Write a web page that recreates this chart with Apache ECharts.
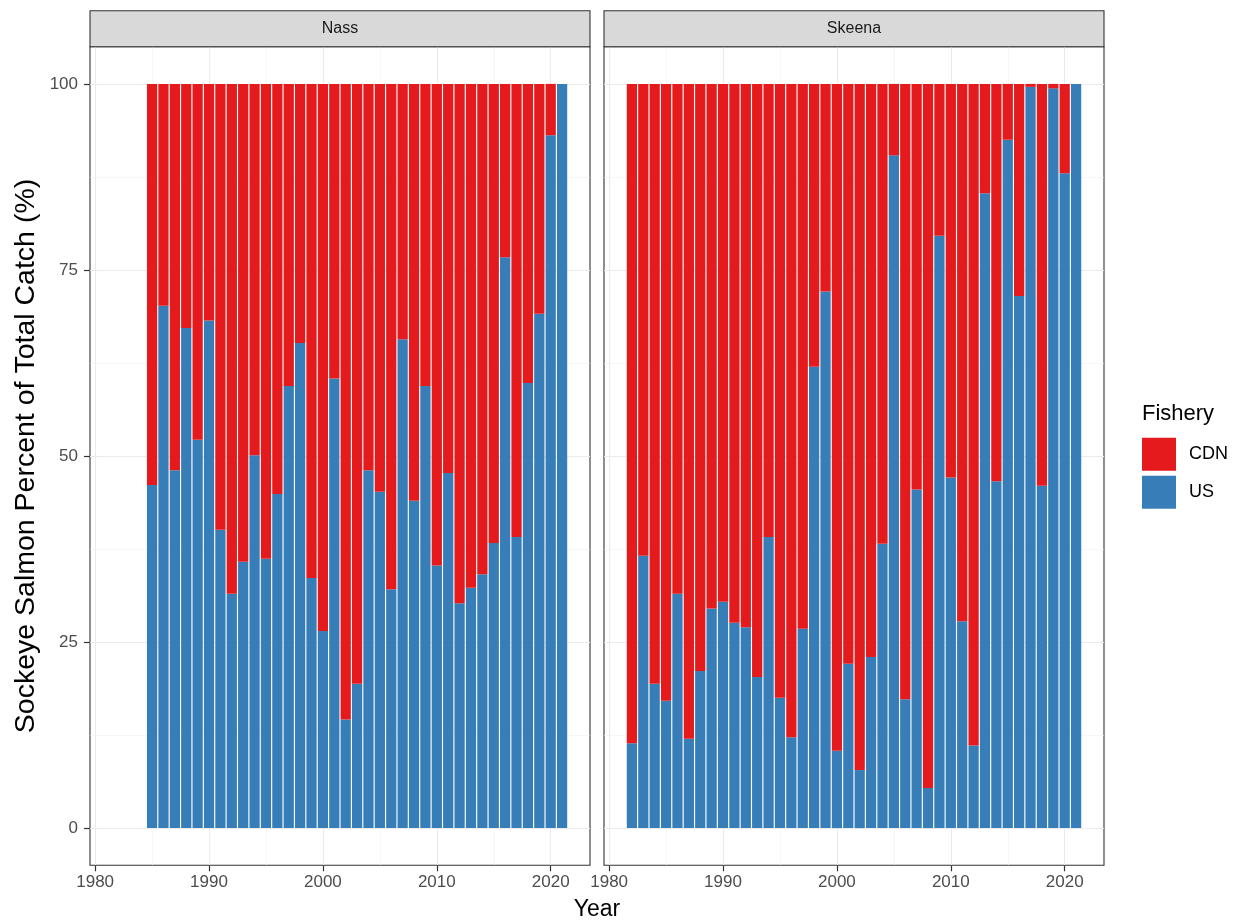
<!DOCTYPE html>
<html>
<head>
<meta charset="utf-8">
<script src="https://cdn.jsdelivr.net/npm/echarts@6/dist/echarts.min.js"></script>
<style>
  html, body { margin: 0; padding: 0; background: #ffffff; }
  #chart { width: 1239px; height: 924px; }
</style>
</head>
<body>
<div id="chart"></div>
<script>
// Sockeye salmon catch share (%) by fishery, per river system
const nassYears = [1985, 1986, 1987, 1988, 1989, 1990, 1991, 1992, 1993, 1994, 1995, 1996, 1997, 1998, 1999,
  2000, 2001, 2002, 2003, 2004, 2005, 2006, 2007, 2008, 2009, 2010, 2011, 2012, 2013, 2014, 2015, 2016,
  2017, 2018, 2019, 2020, 2021];
const nassUS = [46.1, 70.2, 48.1, 67.2, 52.2, 68.2, 40.1, 31.5, 35.8, 50.1, 36.2, 44.9, 59.4, 65.2, 33.6,
  26.5, 60.4, 14.6, 19.4, 48.1, 45.2, 32.1, 65.7, 44.0, 59.4, 35.3, 47.7, 30.2, 32.3, 34.1, 38.3, 76.7,
  39.1, 59.8, 69.1, 93.1, 100];
const nassCDN = [53.9, 29.8, 51.9, 32.8, 47.8, 31.8, 59.9, 68.5, 64.2, 49.9, 63.8, 55.1, 40.6, 34.8, 66.4,
  73.5, 39.6, 85.4, 80.6, 51.9, 54.8, 67.9, 34.3, 56.0, 40.6, 64.7, 52.3, 69.8, 67.7, 65.9, 61.7, 23.3,
  60.9, 40.2, 30.9, 6.9, 0];

const skeenaYears = [1982, 1983, 1984, 1985, 1986, 1987, 1988, 1989, 1990, 1991, 1992, 1993, 1994, 1995,
  1996, 1997, 1998, 1999, 2000, 2001, 2002, 2003, 2004, 2005, 2006, 2007, 2008, 2009, 2010, 2011, 2012,
  2013, 2014, 2015, 2016, 2017, 2018, 2019, 2020, 2021];
const skeenaUS = [11.4, 36.6, 19.4, 17.1, 31.5, 12.0, 21.1, 29.5, 30.4, 27.6, 27.0, 20.3, 39.1, 17.5,
  12.2, 26.8, 62.0, 72.1, 10.4, 22.1, 7.8, 23.0, 38.2, 90.4, 17.3, 45.5, 5.4, 79.6, 47.1, 27.8, 11.1,
  85.3, 46.6, 92.5, 71.5, 99.6, 46.0, 99.4, 88.0, 100];
const skeenaCDN = [88.6, 63.4, 80.6, 82.9, 68.5, 88.0, 78.9, 70.5, 69.6, 72.4, 73.0, 79.7, 60.9, 82.5,
  87.8, 73.2, 38.0, 27.9, 89.6, 77.9, 92.2, 77.0, 61.8, 9.6, 82.7, 54.5, 94.6, 20.4, 52.9, 72.2, 88.9,
  14.7, 53.4, 7.5, 28.5, 0.4, 54.0, 0.6, 12.0, 0];

const panelNames = ['Nass', 'Skeena'];
const fisheryNames = ['CDN', 'US'];
const xTicks = [1980, 1990, 2000, 2010, 2020];
const yTicks = [0, 25, 50, 75, 100];

const panels = [
  { name: panelNames[0], years: nassYears, us: nassUS, cdn: nassCDN },
  { name: panelNames[1], years: skeenaYears, us: skeenaUS, cdn: skeenaCDN }
];

// ---- layout ----
const FONT = '"Liberation Sans", Arial, Helvetica, sans-serif';
const RED = '#E41A1C';
const BLUE = '#377EB8';
const BORDER = '#333333';
const GRID_MAJOR = '#EBEBEB';
const GRID_MINOR = '#F2F2F2';
const panelLeft = [90, 604];
const panelWidth = 500;
const panelTop = 46.7;
const panelBottom = 865.3;
const panelHeight = panelBottom - panelTop;
const stripTop = 10.7;
const xRange = [1979.55, 2023.45];   // bar extent plus 5% padding
const yRange = [-5, 105];

function xPix(i, v) {
  return panelLeft[i] + (v - xRange[0]) / (xRange[1] - xRange[0]) * panelWidth;
}
function yPix(v) {
  return panelTop + (yRange[1] - v) / (yRange[1] - yRange[0]) * panelHeight;
}
const barWidth = 0.9 * panelWidth / (xRange[1] - xRange[0]);

const grids = [], xAxes = [], yAxes = [], series = [], graphics = [];

panels.forEach((p, i) => {
  const g = grids.length;

  // data grid: the full panel, carries the bars and the border
  grids.push({
    left: panelLeft[i], top: panelTop, width: panelWidth, height: panelHeight,
    show: true, borderColor: BORDER, borderWidth: 1.1, backgroundColor: 'transparent',
    containLabel: false
  });
  // vertical grid lines, x ticks and labels
  grids.push({
    left: xPix(i, xTicks[0]), top: panelTop,
    width: xPix(i, xTicks[xTicks.length - 1]) - xPix(i, xTicks[0]), height: panelHeight,
    containLabel: false
  });
  // horizontal grid lines, y ticks and labels
  grids.push({
    left: panelLeft[i], top: yPix(yTicks[yTicks.length - 1]),
    width: panelWidth, height: yPix(yTicks[0]) - yPix(yTicks[yTicks.length - 1]),
    containLabel: false
  });

  const dataX = xAxes.length;
  xAxes.push({ gridIndex: g, type: 'value', min: xRange[0], max: xRange[1], show: false });
  const dataY = yAxes.length;
  yAxes.push({ gridIndex: g, type: 'value', min: yRange[0], max: yRange[1], show: false });

  xAxes.push({
    gridIndex: g + 1, type: 'value',
    min: xTicks[0], max: xTicks[xTicks.length - 1], interval: xTicks[1] - xTicks[0],
    axisLine: { show: false },
    axisTick: { show: true, length: 6, lineStyle: { color: BORDER, width: 1.2 } },
    axisLabel: { show: true, color: '#4D4D4D', fontSize: 17, fontFamily: FONT, margin: 9,
      formatter: v => String(v) },
    splitLine: { show: true, lineStyle: { color: GRID_MAJOR, width: 1.1 } },
    minorTick: { show: false, splitNumber: 2 },
    minorSplitLine: { show: true, lineStyle: { color: GRID_MINOR, width: 0.6 } }
  });
  yAxes.push({ gridIndex: g + 1, type: 'value', min: 0, max: 1, show: false });

  xAxes.push({ gridIndex: g + 2, type: 'value', min: 0, max: 1, show: false });
  yAxes.push({
    gridIndex: g + 2, type: 'value',
    min: yTicks[0], max: yTicks[yTicks.length - 1], interval: yTicks[1] - yTicks[0],
    axisLine: { show: false },
    axisTick: { show: i === 0, length: 6, lineStyle: { color: BORDER, width: 1.2 } },
    axisLabel: { show: i === 0, color: '#4D4D4D', fontSize: 17, fontFamily: FONT, margin: 12 },
    splitLine: { show: true, lineStyle: { color: GRID_MAJOR, width: 1.1 } },
    minorTick: { show: false, splitNumber: 2 },
    minorSplitLine: { show: true, lineStyle: { color: GRID_MINOR, width: 0.6 } }
  });

  // value column first so the stack applies to the percentage, not the year
  const common = {
    type: 'bar', xAxisIndex: dataX, yAxisIndex: dataY, stack: 'share' + i,
    encode: { x: 1, y: 0 },
    barWidth: barWidth, animation: false, silent: true,
    emphasis: { disabled: true }
  };
  series.push(Object.assign({}, common, {
    name: fisheryNames[1], itemStyle: { color: BLUE },
    data: p.years.map((y, k) => [p.us[k], y])
  }));
  series.push(Object.assign({}, common, {
    name: fisheryNames[0], itemStyle: { color: RED },
    data: p.years.map((y, k) => [p.cdn[k], y])
  }));

  // facet strip
  graphics.push({
    type: 'rect', z: 10,
    shape: { x: panelLeft[i], y: stripTop, width: panelWidth, height: panelTop - stripTop },
    style: { fill: '#D9D9D9', stroke: BORDER, lineWidth: 1.1 }
  });
  graphics.push({
    type: 'text', z: 11,
    x: panelLeft[i] + panelWidth / 2, y: (stripTop + panelTop) / 2,
    style: { text: p.name, fill: '#1A1A1A', font: '16px ' + FONT, textAlign: 'center', textVerticalAlign: 'middle' }
  });
});

// axis titles and legend title
graphics.push({
  type: 'text', z: 11, x: 26, y: (panelTop + panelBottom) / 2, rotation: Math.PI / 2,
  style: { text: 'Sockeye Salmon Percent of Total Catch (%)', fill: '#000000', font: '28.5px ' + FONT,
    textAlign: 'center', textVerticalAlign: 'middle' }
});
graphics.push({
  type: 'text', z: 11, x: (panelLeft[0] + panelLeft[1] + panelWidth) / 2, y: 910,
  style: { text: 'Year', fill: '#000000', font: '23px ' + FONT, textAlign: 'center', textVerticalAlign: 'middle' }
});
graphics.push({
  type: 'text', z: 11, x: 1142, y: 414,
  style: { text: 'Fishery', fill: '#000000', font: '22px ' + FONT, textAlign: 'left', textVerticalAlign: 'middle' }
});

const chart = echarts.init(document.getElementById('chart'), null, { renderer: 'canvas' });
chart.setOption({
  animation: false,
  backgroundColor: '#ffffff',
  grid: grids,
  xAxis: xAxes,
  yAxis: yAxes,
  legend: {
    data: fisheryNames, orient: 'vertical', left: 1142, top: 437.7, padding: 0,
    itemWidth: 34, itemHeight: 33, itemGap: 5, icon: 'rect', selectedMode: false,
    textStyle: { fontSize: 18, color: '#000000', fontFamily: FONT, padding: [0, 0, 0, 8] }
  },
  tooltip: { show: false },
  graphic: graphics,
  series: series
});
</script>
</body>
</html>
